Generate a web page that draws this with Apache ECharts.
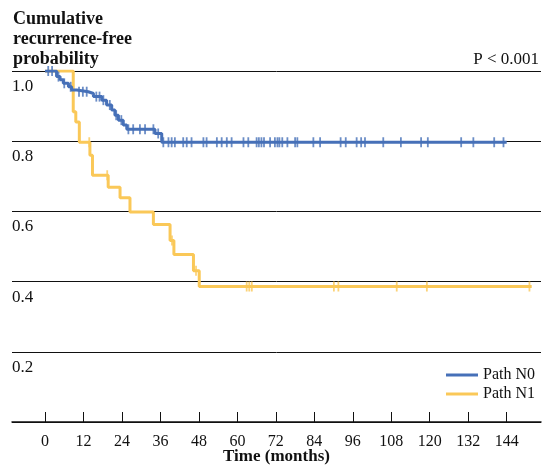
<!DOCTYPE html>
<html>
<head>
<meta charset="utf-8">
<script src="https://cdn.jsdelivr.net/npm/echarts@6/dist/echarts.min.js"></script>
<style>html,body{margin:0;padding:0;background:#fff}#c{width:544px;height:471px}</style>
</head>
<body>
<div id="c"></div>
<script>
// Kaplan-Meier step events: [time (months), survival after the event]
const n0Times = [0, 3.6, 4.7, 5.7, 7.3, 8.3, 9.9, 13.5, 15.1, 17.7, 19.2, 20.8, 21.8, 22.9, 24.4, 25.5, 34.3, 36.4];
const n0Surv  = [1.0, 0.984, 0.975, 0.965, 0.955, 0.946, 0.941, 0.936, 0.927, 0.917, 0.903, 0.889, 0.874, 0.86, 0.846, 0.834, 0.822, 0.797];
const n0End = 144.0;
const n0Censor = [1.0, 2.2, 4.2, 6.0, 8.0, 10.6, 11.8, 13.0, 16.0, 17.0, 18.2, 20.2, 22.2, 23.8, 26.0, 27.5, 29.6, 31.2, 33.8, 35.3,
  36.9, 38.5, 39.5, 40.5, 43.1, 44.2, 45.7, 49.4, 50.4, 53.6, 55.1, 56.7, 58.2, 61.9, 63.4, 66.0, 66.7, 67.5, 68.3, 70.2, 71.7,
  72.5, 73.1, 74.0, 75.6, 78.0, 78.7, 83.7, 85.8, 92.2, 93.8, 97.2, 98.6, 99.8, 105.5, 111.0, 117.3, 119.4, 129.8, 133.6, 140.1, 143.0];

const n1Times = [0, 8.8, 9.6, 10.7, 14.0, 14.8, 19.7, 23.4, 26.5, 33.8, 39.0, 40.2, 46.3, 48.1];
const n1Surv  = [1.0, 0.884, 0.855, 0.797, 0.76, 0.703, 0.669, 0.639, 0.598, 0.563, 0.517, 0.477, 0.431, 0.386];
const n1End = 151.8;
const n1Censor = [13.8, 19.4, 39.6, 47.1, 62.9, 63.7, 64.5, 90.1, 91.5, 109.7, 119.1, 151.1];

const xTicks = [0, 12, 24, 36, 48, 60, 72, 84, 96, 108, 120, 132, 144];
const seriesNames = ['Path N0', 'Path N1'];

function stepData(times, surv, end) {
  const d = times.map((t, i) => [t, surv[i]]);
  d.push([end, surv[surv.length - 1]]);
  return d;
}
function survAt(times, surv, t) {
  let s = surv[0];
  for (let i = 0; i < times.length; i++) if (times[i] <= t) s = surv[i];
  return s;
}
function censorData(times, surv, cens) {
  return cens.map(t => [t, survAt(times, surv, t)]);
}

const BLUE = '#4670B8', YELLOW = '#FAC858';
const FONT = "'Liberation Serif', 'Times New Roman', serif";

const chart = echarts.init(document.getElementById('c'), null, {renderer: 'canvas'});
chart.setOption({
  animation: false,
  backgroundColor: '#fff',
  title: [
    {text: 'Cumulative\nrecurrence-free\nprobability', left: 13, top: 9, padding: 0,
     textStyle: {fontFamily: FONT, fontWeight: 'bold', fontSize: 18, lineHeight: 20, color: '#111'}},
    {text: 'P < 0.001', right: 5, top: 51, padding: 0,
     textStyle: {fontFamily: FONT, fontWeight: 'normal', fontSize: 17, color: '#111'}}
  ],
  legend: {
    data: seriesNames, orient: 'vertical', right: 4, top: 361, itemGap: 1,
    icon: 'rect', itemWidth: 32, itemHeight: 3,
    textStyle: {fontFamily: FONT, fontSize: 16, color: '#111', lineHeight: 18, padding: [0, 0, 0, 0]}
  },
  grid: {left: 12, right: 3, top: 71, bottom: 49, containLabel: false, outerBoundsMode: 'none'},
  xAxis: {
    type: 'value', min: -10.3, max: 154.7,
    name: 'Time (months)', nameLocation: 'middle', nameGap: 26, nameMoveOverlap: false,
    nameTextStyle: {fontFamily: FONT, fontWeight: 'bold', fontSize: 17, color: '#111'},
    axisLine: {show: true, lineStyle: {color: '#111', width: 1.5}},
    axisTick: {show: true, inside: true, length: 10, customValues: xTicks, lineStyle: {color: '#111', width: 1}},
    axisLabel: {customValues: xTicks, margin: 12, fontFamily: FONT, fontSize: 16, color: '#111'},
    splitLine: {show: false}
  },
  yAxis: {
    type: 'value', min: 0, max: 1.0, interval: 0.2,
    axisLine: {show: false}, axisTick: {show: false},
    axisLabel: {inside: true, margin: 0, align: 'left', verticalAlign: 'top', padding: [7, 0, 0, 0],
      fontFamily: FONT, fontSize: 17, color: '#111', showMinLabel: false,
      formatter: v => v.toFixed(1)},
    splitLine: {show: true, lineStyle: {color: '#111', width: 1}}
  },
  series: [
    {name: seriesNames[1], type: 'line', step: 'end', data: stepData(n1Times, n1Surv, n1End),
     showSymbol: false, symbol: 'none', lineStyle: {color: YELLOW, width: 3}, itemStyle: {color: YELLOW}, z: 2},
    {name: seriesNames[1] + ' censored', type: 'scatter', data: censorData(n1Times, n1Surv, n1Censor),
     symbol: 'rect', symbolSize: [1.8, 10], itemStyle: {color: YELLOW}, z: 2},
    {name: seriesNames[0], type: 'line', step: 'end', data: stepData(n0Times, n0Surv, n0End),
     showSymbol: false, symbol: 'none', lineStyle: {color: BLUE, width: 3}, itemStyle: {color: BLUE}, z: 3},
    {name: seriesNames[0] + ' censored', type: 'scatter', data: censorData(n0Times, n0Surv, n0Censor),
     symbol: 'rect', symbolSize: [1.8, 10], itemStyle: {color: BLUE}, z: 3}
  ]
});
</script>
</body>
</html>
